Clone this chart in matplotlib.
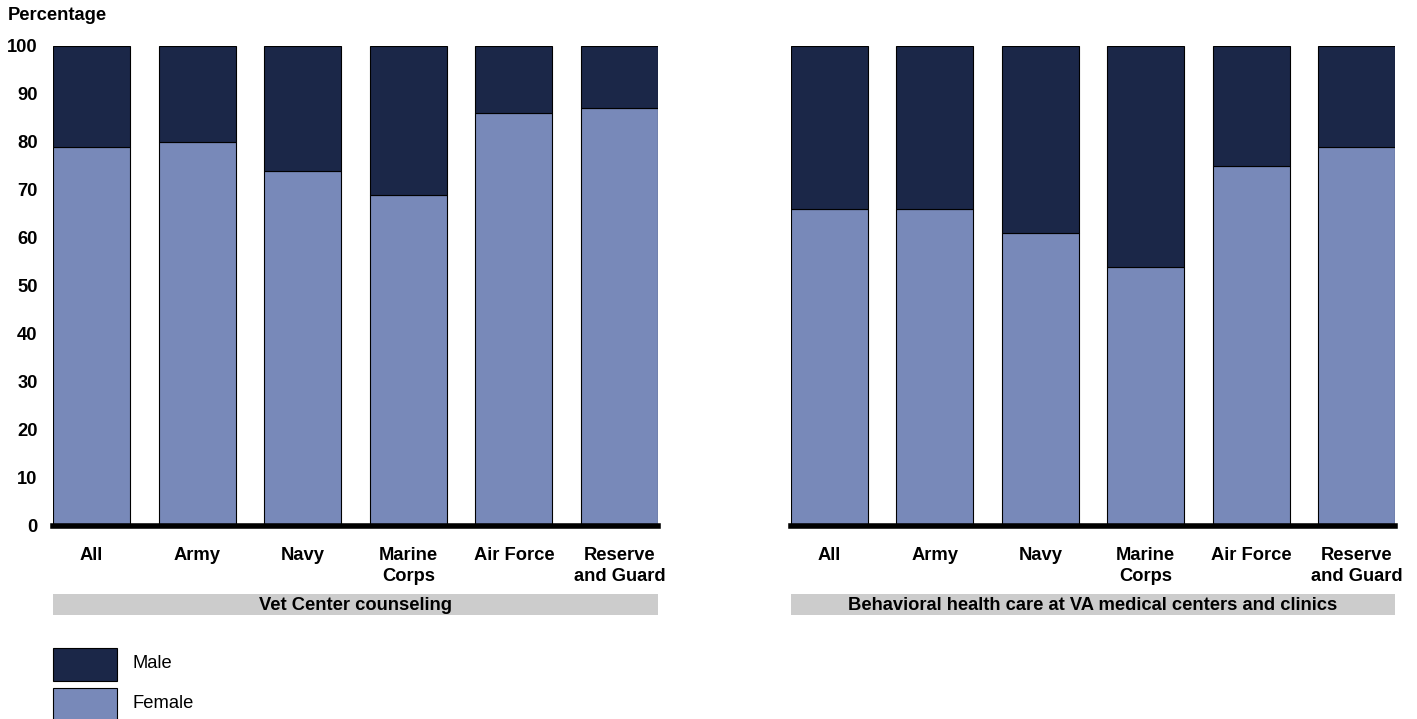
import matplotlib
matplotlib.use("Agg")
import matplotlib.pyplot as plt
from matplotlib.patches import Rectangle

plt.rcParams['font.family'] = ['Liberation Sans', 'DejaVu Sans']

categories = ["All", "Army", "Navy", "Marine\nCorps", "Air Force", "Reserve\nand Guard"]
vet_female = [79, 80, 74, 69, 86, 87]
va_female = [66, 66, 61, 54, 75, 79]
panel_titles = ["Vet Center counseling", "Behavioral health care at VA medical centers and clinics"]
yticks = [0, 10, 20, 30, 40, 50, 60, 70, 80, 90, 100]

male_color = "#1b2748"
female_color = "#7889b9"

W, H = 1417, 719
fig = plt.figure(figsize=(W / 100, H / 100), dpi=100)

def fx(px):
    return px / W

def fy(py):
    return 1 - py / H

bottom = fy(526)
height = fy(46) - bottom
axes_specs = [(53, 658), (791, 1395)]
bw = 0.73
fs = 13.2

for i, (female, title) in enumerate(zip([vet_female, va_female], panel_titles)):
    x0, x1 = axes_specs[i]
    ax = fig.add_axes([fx(x0), bottom, fx(x1 - x0), height])
    xs = list(range(len(categories)))
    male = [100 - f for f in female]
    ax.bar(xs, female, width=bw, color=female_color, edgecolor="black", linewidth=0.8)
    ax.bar(xs, male, width=bw, bottom=female, color=male_color, edgecolor="black", linewidth=0.8)
    ax.set_xlim(-bw / 2, len(categories) - 1 + bw / 2)
    ax.set_ylim(0, 100)
    for s in ["top", "right", "left"]:
        ax.spines[s].set_visible(False)
    ax.spines["bottom"].set_linewidth(4)
    ax.spines["bottom"].set_color("black")
    ax.spines["bottom"].set_zorder(5)
    ax.set_xticks(xs)
    ax.set_xticklabels(categories, fontsize=fs, fontweight="bold", linespacing=1.3, va="top")
    ax.tick_params(axis="x", length=0, pad=15)
    if i == 0:
        ax.set_yticks(yticks)
        ax.set_yticklabels([str(t) for t in yticks], fontsize=fs, fontweight="bold")
        ax.tick_params(axis="y", length=0, pad=11)
    else:
        ax.set_yticks([])
    # gray band with panel title
    band = Rectangle((fx(x0), fy(615)), fx(x1 - x0), fy(594) - fy(615),
                     transform=fig.transFigure, facecolor="#cccccc", edgecolor="none")
    fig.patches.append(band)
    fig.text(fx((x0 + x1) / 2), fy(605), title, ha="center", va="center",
             fontsize=fs, fontweight="bold")

fig.text(fx(8), fy(16), "Percentage", ha="left", va="center", fontsize=fs, fontweight="bold")

# legend
for label, color, ytop in [("Male", male_color, 648), ("Female", female_color, 688)]:
    r = Rectangle((fx(53), fy(ytop + 33)), fx(64), fy(ytop) - fy(ytop + 33),
                  transform=fig.transFigure, facecolor=color, edgecolor="black", linewidth=0.8)
    fig.patches.append(r)
    fig.text(fx(133), fy(ytop + 16), label, ha="left", va="center", fontsize=fs)

fig.savefig("out.png", dpi=100)
